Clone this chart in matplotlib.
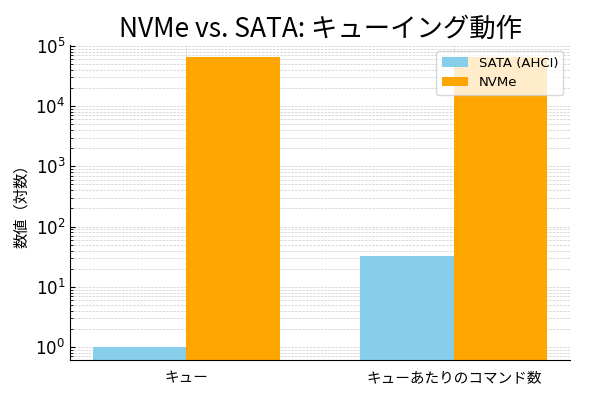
import matplotlib.pyplot as plt
import numpy as np

plt.rcParams['font.family'] = ['Noto Sans CJK JP', 'DejaVu Sans']

categories = ["キュー", "キューあたりのコマンド数"]
sata_values = [1, 32]
nvme_values = [65535, 65536]

x = np.arange(len(categories))
width = 0.35

fig, ax = plt.subplots(figsize=(5.9, 3.97), dpi=100)
fig.subplots_adjust(left=0.119, right=0.966, top=0.887, bottom=0.093)

ax.bar(x - width / 2, sata_values, width, label="SATA (AHCI)", color="#87ceeb")
ax.bar(x + width / 2, nvme_values, width, label="NVMe", color="#ffa500")

ax.set_yscale("log")
ax.set_ylim(0.607, 1.04e5)
ax.set_xticks(x)
ax.set_xticklabels(categories, fontsize=10.5)
ax.set_ylabel("数値（対数）", fontsize=11)
ax.set_title("NVMe vs. SATA: キューイング動作", fontsize=19)
ax.tick_params(axis="y", labelsize=12)
ax.tick_params(axis="x", pad=8)
for lbl in ax.get_yticklabels():
    lbl.set_family("DejaVu Sans")
ax.tick_params(which="both", direction="in")
ax.grid(True, which="both", linestyle="--", linewidth=0.5, color="#cccccc")
ax.set_axisbelow(True)
ax.spines["top"].set_visible(False)
ax.spines["right"].set_visible(False)
ax.legend(loc="upper right", prop={"family": "DejaVu Sans", "size": 9.5})

plt.savefig("out.png")
